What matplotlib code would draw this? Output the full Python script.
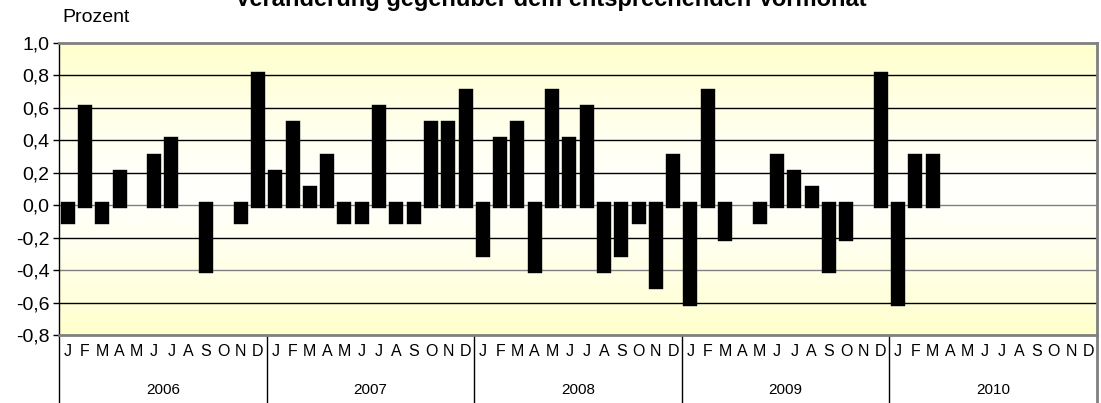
import numpy as np
import matplotlib; matplotlib.use("Agg")
import matplotlib.pyplot as plt
from matplotlib.transforms import blended_transform_factory

plt.rcParams["font.family"] = ["Liberation Sans", "DejaVu Sans"]

years = ["2006", "2007", "2008", "2009", "2010"]
months = ["J", "F", "M", "A", "M", "J", "J", "A", "S", "O", "N", "D"]
# monthly change vs previous month, percent (None = no data yet)
v2006 = [-0.1, 0.6, -0.1, 0.2, 0.0, 0.3, 0.4, 0.0, -0.4, 0.0, -0.1, 0.8]
v2007 = [0.2, 0.5, 0.1, 0.3, -0.1, -0.1, 0.6, -0.1, -0.1, 0.5, 0.5, 0.7]
v2008 = [-0.3, 0.4, 0.5, -0.4, 0.7, 0.4, 0.6, -0.4, -0.3, -0.1, -0.5, 0.3]
v2009 = [-0.6, 0.7, -0.2, 0.0, -0.1, 0.3, 0.2, 0.1, -0.4, -0.2, 0.0, 0.8]
v2010 = [-0.6, 0.3, 0.3] + [None] * 9
yticks = [1.0, 0.8, 0.6, 0.4, 0.2, 0.0, -0.2, -0.4, -0.6, -0.8]

values = v2006 + v2007 + v2008 + v2009 + v2010
x = np.arange(len(values))
mask = np.array([v is not None and v != 0 for v in values])
vals = np.array([v if v is not None else 0.0 for v in values])

fig = plt.figure(figsize=(11.01, 4.03), dpi=100)
W, H = 1101, 403
ax = fig.add_axes([59 / W, (H - 335) / H, (1097 - 59) / W, (335 - 43) / H])
ax.set_xlim(-0.5, len(values) - 0.5)
ax.set_ylim(-0.8, 1.0)

# pale yellow gradient background (white in the middle)
t = np.linspace(0, 1, 256)
grad = 1 - (np.abs(t - 0.5) * 2) ** 1.3
col = np.ones((256, 1, 3))
col[:, 0, 2] = 0.80 + 0.19 * grad
ax.imshow(col, extent=(-0.5, len(values) - 0.5, -0.8, 1.0), aspect="auto", zorder=0)

for yv in yticks:
    if yv in (1.0, -0.8):
        continue
    c = "#808080" if yv in (0.0, -0.4) else "#000000"
    ax.axhline(yv, color=c, lw=1.0, zorder=1)

ax.bar(x[mask], vals[mask], width=0.46, color="black", edgecolor="black",
       linewidth=4.6, joinstyle="miter", zorder=3)

for s in ["top", "right", "bottom"]:
    ax.spines[s].set_color("#808080")
    ax.spines[s].set_linewidth(2)
ax.spines["left"].set_color("black")
ax.spines["left"].set_linewidth(1)

ax.set_yticks(yticks)
ax.set_yticklabels([f"{v:.1f}".replace(".", ",") for v in yticks], fontsize=14)
ax.tick_params(axis="y", length=4, width=1, pad=3)
ax.set_xticks([])

tr = blended_transform_factory(ax.transData, ax.transAxes)
for i in range(len(values)):
    ax.text(i, -0.058, months[i % 12], transform=tr, ha="center", va="center",
            fontsize=11.5)
for k, yr in enumerate(years):
    ax.text(k * 12 + 5.5, -0.188, yr, transform=tr, ha="center", va="center",
            fontsize=11)
for k in range(len(years) + 1):
    xs = k * 12 - 0.5
    c = "black" if k < len(years) else "#808080"
    ax.plot([xs, xs], [0, -0.24], transform=tr, color=c, lw=1 if k < len(years) else 2,
            clip_on=False)

fig.text(62 / W, 1 - 18 / H, "Prozent", fontsize=14, va="center", ha="left")
fig.text(551 / W, 1 - 6 / H, "Veränderung gegenüber dem entsprechenden Vormonat",
         fontsize=17, fontweight="bold", ha="center", va="baseline")

fig.savefig("out.png", dpi=100)
